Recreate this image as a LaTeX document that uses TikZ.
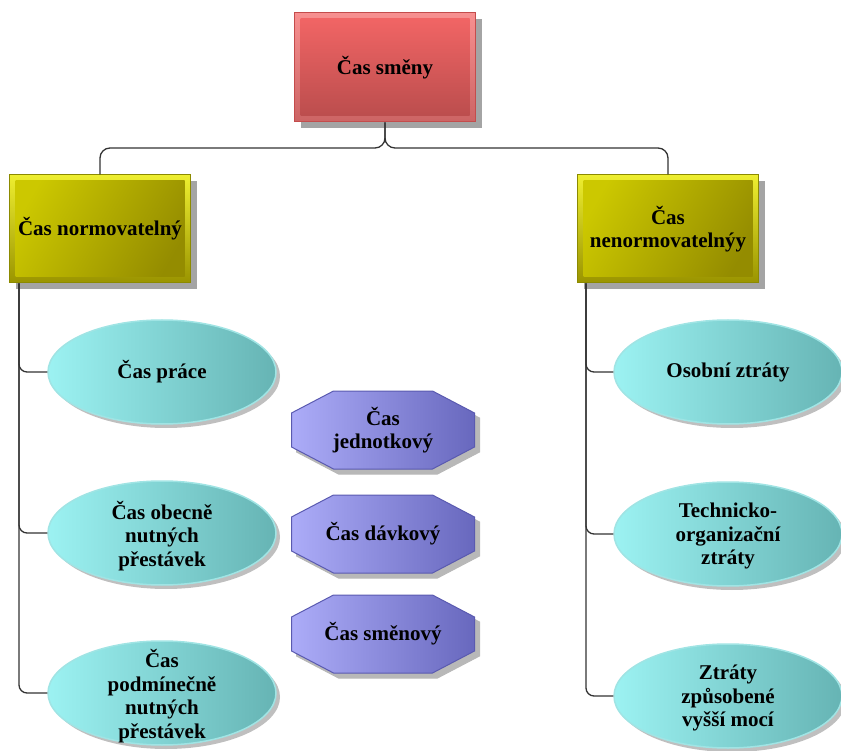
\documentclass[tikz,border=0pt]{standalone}
\usepackage{fontspec}
\setmainfont{Liberation Serif}
\usetikzlibrary{shapes.geometric,shadows,calc}

\definecolor{connc}{HTML}{333333}
\definecolor{shadowc}{HTML}{A4A4A4}
% red root box
\definecolor{redEdge}{HTML}{C44C4C}
\definecolor{redFrameA}{HTML}{F79090}
\definecolor{redFrameB}{HTML}{CC6464}
\definecolor{redInA}{HTML}{F46666}
\definecolor{redInB}{HTML}{B84C4C}
% olive boxes
\definecolor{yelEdge}{HTML}{8C8A00}
\definecolor{yelFrameA}{HTML}{EEEE30}
\definecolor{yelFrameB}{HTML}{9A9400}
\definecolor{yelInA}{HTML}{CCC800}
\definecolor{yelInB}{HTML}{948C00}
% cyan ellipses
\definecolor{cyEdge}{HTML}{A0E4E4}
\definecolor{cyA}{HTML}{9CF2F2}
\definecolor{cyB}{HTML}{66B4B4}
% violet octagons
\definecolor{vioEdge}{HTML}{5A5AB0}
\definecolor{vioA}{HTML}{ACACF8}
\definecolor{vioB}{HTML}{6868BE}
\definecolor{octShadowC}{HTML}{B8B8B8}

\tikzset{
  conn/.style={draw=connc, line width=1.3pt, rounded corners=10pt},
  txt/.style={font=\fontsize{21}{23.5}\selectfont\bfseries, align=center, text=black, inner sep=0pt},
  boxshadow/.style={drop shadow={shadow xshift=6pt, shadow yshift=-6pt, fill=shadowc, opacity=1}},
  redbox/.style={txt, rectangle, minimum width=181pt, minimum height=109pt,
    draw=redEdge, line width=1pt, top color=redFrameA, bottom color=redFrameB, boxshadow,
    path picture={\shade[top color=redInA, bottom color=redInB]
      ([shift={(6pt,-6pt)}]path picture bounding box.north west) rectangle
      ([shift={(-6pt,6pt)}]path picture bounding box.south east);}},
  yelbox/.style={txt, rectangle, minimum width=181pt, minimum height=108pt,
    draw=yelEdge, line width=1pt, top color=yelFrameA, bottom color=yelFrameB, boxshadow,
    path picture={\shade[left color=yelInA, right color=yelInB, shading angle=60]
      ([shift={(6pt,-6pt)}]path picture bounding box.north west) rectangle
      ([shift={(-6pt,6pt)}]path picture bounding box.south east);}},
  ellnode/.style={ellipse, minimum width=228pt, minimum height=104pt, inner sep=0pt,
    draw=cyEdge, line width=1.5pt, left color=cyA, right color=cyB,
    drop shadow={shadow xshift=4pt, shadow yshift=-4pt, fill=black, opacity=0.25}},
  octnode/.style={txt, rectangle, minimum width=183pt, minimum height=78pt},
  octshade/.style={left color=vioA, right color=vioB, draw=vioEdge, line width=1pt},
  octshadow/.style={fill=octShadowC, draw=octShadowC, line width=1pt},
}

% octagon of 183pt x 78pt around the point #1, moved by (#2pt,#3pt) on the page
\newcommand\octoutline[3]{%
  ($(#1)+(-49.5pt+#2pt,39pt+#3pt)$) -- ($(#1)+(49.5pt+#2pt,39pt+#3pt)$) --
  ($(#1)+(91.5pt+#2pt,17pt+#3pt)$) -- ($(#1)+(91.5pt+#2pt,-17pt+#3pt)$) --
  ($(#1)+(49.5pt+#2pt,-39pt+#3pt)$) -- ($(#1)+(-49.5pt+#2pt,-39pt+#3pt)$) --
  ($(#1)+(-91.5pt+#2pt,-17pt+#3pt)$) -- ($(#1)+(-91.5pt+#2pt,17pt+#3pt)$) -- cycle}

\begin{document}
\begin{tikzpicture}[x=1pt, y=-1pt]
\useasboundingbox (0,0) rectangle (841,751);

% hierarchy boxes
\node[redbox] (root) at (385,67.5) {Čas směny};
\node[yelbox] (norm) at (100,229) {Čas normovatelný};
\node[yelbox] (nenorm) at (668,229) {Čas\\nenormovatelnýy};

% junction below the root
\coordinate (jn) at (385,148);
\draw[conn] (norm.north) |- (jn) -- (root.south);
\draw[conn] (nenorm.north) |- (jn) -- (root.south);

% ellipses of the left branch
\node[ellnode] (le1) at (162,372) {};
\node[ellnode] (le2) at (162,533) {};
\node[ellnode] (le3) at (162,693) {};
\node[txt] (le1t) at (le1) {Čas práce};
\node[txt] (le2t) at ([yshift=-3pt]le2.center) {Čas obecně\\nutných\\přestávek};
\node[txt] (le3t) at ([yshift=-3pt]le3.center) {Čas\\podmínečně\\nutných\\přestávek};

% ellipses of the right branch
\node[ellnode] (re1) at (728,372) {};
\node[ellnode] (re2) at (728,534) {};
\node[ellnode] (re3) at (728,696) {};
\node[txt] (re1t) at (re1) {Osobní ztráty};
\node[txt] (re2t) at ([yshift=-2pt]re2.center) {Technicko-\\organizační\\ztráty};
\node[txt] (re3t) at ([yshift=-2pt]re3.center) {Ztráty\\způsobené\\vyšší mocí};

% trunks with branches
\coordinate (lt) at ($(norm.south west)+(10pt,0pt)$);
\coordinate (rt) at ($(nenorm.south west)+(9pt,0pt)$);
\foreach \e in {le1,le2,le3} \draw[conn, rounded corners=8pt] (lt) |- (\e.west);
\foreach \e in {re1,re2,re3} \draw[conn, rounded corners=8pt] (rt) |- (\e.west);

% octagons in the middle: shadow, body, then the label
\coordinate (oc1c) at (383,430);
\coordinate (oc2c) at (383,534);
\coordinate (oc3c) at (383,634);
\foreach \pt in {oc1c,oc2c,oc3c}{
  \filldraw[octshadow] \octoutline{\pt}{5}{-5};
  \shade[octshade] \octoutline{\pt}{0}{0};
}
\node[octnode] (oc1) at (oc1c) {Čas\\jednotkový};
\node[octnode] (oc2) at (oc2c) {Čas dávkový};
\node[octnode] (oc3) at (oc3c) {Čas směnový};
\end{tikzpicture}
\end{document}
